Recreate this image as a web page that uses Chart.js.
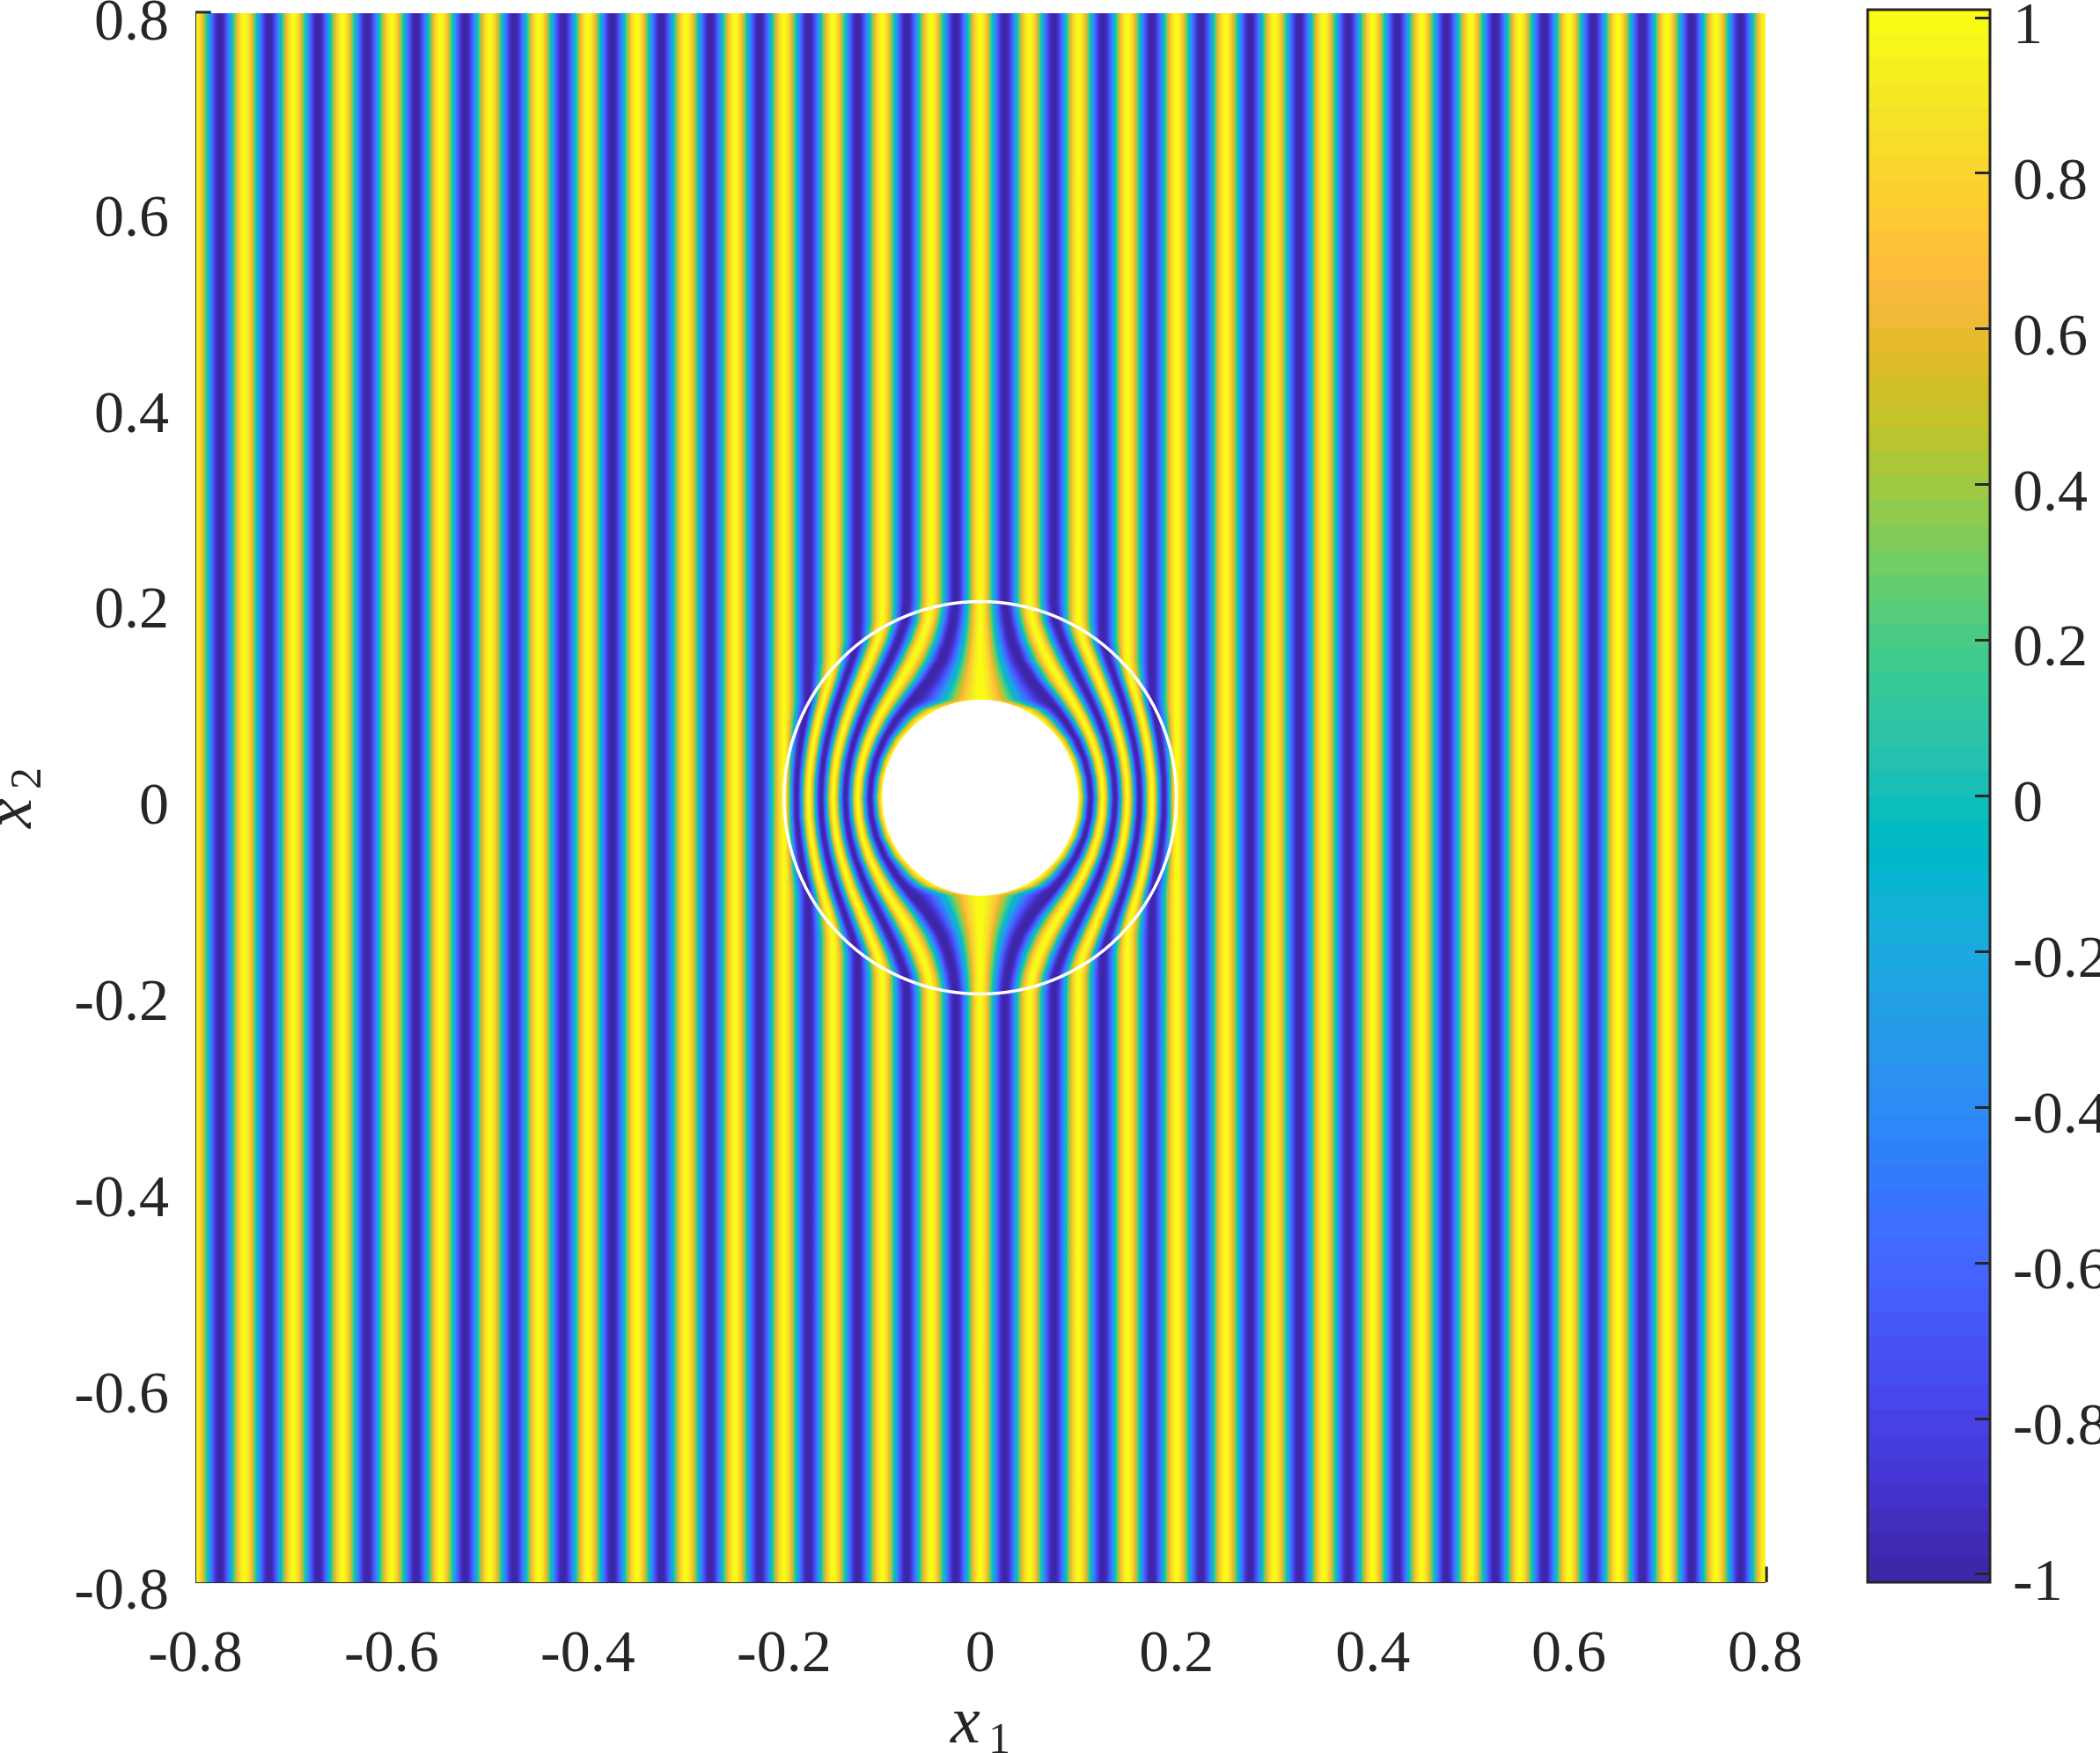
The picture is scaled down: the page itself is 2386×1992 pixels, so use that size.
<!DOCTYPE html>
<html>
<head>
<meta charset="utf-8">
<title>Cloak field</title>
<script src="https://cdn.jsdelivr.net/npm/chart.js@4/dist/chart.umd.js"></script>
<style>
  body { margin: 0; background: #fff; overflow: hidden; }
  canvas { position: absolute; top: 0; }
  #field { left: 0; }
  #bar { left: 2100px; }
</style>
</head>
<body>
<canvas id="field" width="2100" height="1992"></canvas>
<canvas id="bar" width="286" height="1992"></canvas>
<script>
// Tick labels
const xTickLabels = ['-0.8', '-0.6', '-0.4', '-0.2', '0', '0.2', '0.4', '0.6', '0.8'];
const yTickLabels = ['-0.8', '-0.6', '-0.4', '-0.2', '0', '0.2', '0.4', '0.6', '0.8'];
const barTickValues = [-1, -0.8, -0.6, -0.4, -0.2, 0, 0.2, 0.4, 0.6, 0.8, 1];
const barTickLabels = ['-1', '-0.8', '-0.6', '-0.4', '-0.2', '0', '0.2', '0.4', '0.6', '0.8', '1'];

// Heights at which the bent stripes were read, upper half (lower half is the mirror)
const cloakY = [0, 0.02, 0.04, 0.06, 0.08, 0.09, 0.1, 0.12, 0.14, 0.16, 0.18, 0.2];

// x of each crest / trough line at those heights, right half (left half is the mirror)
const curve000 = [0.1, 0.098, 0.0917, 0.08, 0.06, 0.0436, 0, 0, 0, 0, 0, 0];
const curve025 = [0.1125, 0.1109, 0.1061, 0.0977, 0.0855, 0.078, 0.0697, 0.0527, 0.0399, 0.0323, 0.0277, 0.025];
const curve050 = [0.125, 0.1237, 0.1199, 0.1134, 0.1043, 0.099, 0.0933, 0.0809, 0.0695, 0.0602, 0.0535, 0.05];
const curve075 = [0.1375, 0.1364, 0.1333, 0.1281, 0.1209, 0.1167, 0.1122, 0.1024, 0.0928, 0.084, 0.0767, 0.075];
const curve100 = [0.15, 0.1491, 0.1465, 0.1421, 0.1362, 0.1328, 0.129, 0.121, 0.1127, 0.1048, 0.1, 0.1];
const curve125 = [0.1625, 0.1617, 0.1595, 0.1558, 0.1508, 0.1479, 0.1448, 0.138, 0.131, 0.125, 0.125, 0.125];
const curve150 = [0.175, 0.1744, 0.1724, 0.1693, 0.165, 0.1625, 0.1595, 0.1537, 0.15, 0.15, 0.15, 0.15];
const curve175 = [0.1875, 0.1869, 0.1852, 0.1825, 0.1788, 0.1766, 0.175, 0.175, 0.175, 0.175, 0.175, 0.175];
const curve200 = [0.2, 0.2, 0.2, 0.2, 0.2, 0.2, 0.2, 0.2, 0.2, 0.2, 0.2, 0.2];

// Straight lines further out: trough, crest, trough, ...
const outerLines = [0.225, 0.25, 0.275, 0.3, 0.325, 0.35, 0.375, 0.4, 0.425, 0.45, 0.475, 0.5,
  0.525, 0.55, 0.575, 0.6, 0.625, 0.65, 0.675, 0.7, 0.725, 0.75, 0.775, 0.8, 0.825];

const plotEdge = [[-0.8, -0.8], [0.8, -0.8], [0.8, 0.8], [-0.8, 0.8]];
const cloakCentre = [{x: 0, y: 0}];
const innerRadius = 0.1;
const outerRadius = 0.2;

// parula, 64 colours
const parula = ['#3e26a8', '#402aB4', '#422ebf', '#4333cb', '#4537d5', '#463cde', '#4741e5', '#4747eb',
  '#484df0', '#4752f4', '#4758f8', '#465efb', '#4563fd', '#4269fe', '#3e6fff', '#3875fe',
  '#327cfc', '#2f81fa', '#2e87f7', '#2d8cf3', '#2b91ef', '#2796eb', '#259be7', '#23a0e5',
  '#20a5e3', '#1ca9df', '#18addb', '#12b1d6', '#08b5d0', '#01b8ca', '#02bac3', '#0bbdbc',
  '#19bfb5', '#24c1ae', '#2cc3a7', '#31c69f', '#37c897', '#3fca8e', '#4acb84', '#57cc7a',
  '#64cd6f', '#72cd64', '#81cc59', '#8fcb4e', '#9dc943', '#abc739', '#b9c431', '#c5c22a',
  '#d1bf27', '#dcbd29', '#e6bb2d', '#f0ba36', '#f8ba3d', '#febe3c', '#fec338', '#fec934',
  '#fccf30', '#f9d52d', '#f7dc2a', '#f5e227', '#f5e924', '#f6ef20', '#f7f51b', '#f9fb14'];

const ink = '#262626';
const serif = '"Liberation Serif", serif';

// all lines of the right half, from the cloak hole outwards; even index = crest
const rightLines = [curve000, curve025, curve050, curve075, curve100, curve125, curve150, curve175, curve200]
  .concat(outerLines.map(function (x) { return cloakY.map(function () { return x; }); }));

var lastRow = cloakY.length - 1;
var bentRows = [];
for (var r = lastRow; r >= 0; r--) bentRows.push(r);
for (var r = 1; r <= lastRow; r++) bentRows.push(r);

function rowHeight(pos, rows) {
  // first and last entries of a stripe reach the plot edge
  var y = cloakY[rows[pos]];
  if (pos === 0) return -0.8;
  if (pos === rows.length - 1) return 0.8;
  return pos < rows.length / 2 && rows[pos] !== 0 ? -y : y;
}

function stripeShape(leftCrest, leftTrough, rightCrest, rightTrough, share, straight) {
  var rows = straight ? [lastRow, lastRow] : [lastRow].concat(bentRows, [lastRow]);
  var pts = [];
  rows.forEach(function (row, i) {
    pts.push({x: rightCrest[row] + share * (rightTrough[row] - rightCrest[row]), y: rowHeight(i, rows)});
  });
  for (var i = rows.length - 1; i >= 0; i--) {
    var row = rows[i];
    pts.push({x: leftCrest[row] + share * (leftTrough[row] - leftCrest[row]), y: rowHeight(i, rows)});
  }
  return pts;
}

function negate(line) {
  return line.map(function (x) { return -x; });
}

function shapeDataset(points, colour) {
  return {
    data: points,
    showLine: true,
    fill: 'shape',
    backgroundColor: colour,
    borderWidth: 0,
    pointRadius: 0,
    tension: 0
  };
}

// nested colour bands, lowest value first in the list because Chart.js paints the list backwards
var bands = [];
for (var c = 1; c < parula.length; c += 2) {
  var share = Math.acos(-1 + 2 * c / 64) / Math.PI;
  bands.unshift.apply(bands, (function () {
    var list = [shapeDataset(stripeShape(negate(rightLines[0]), negate(rightLines[1]), rightLines[0], rightLines[1], share, false), parula[c])];
    for (var k = 2; k + 1 < rightLines.length; k += 2) {
      var straight = k > 8;
      list.push(shapeDataset(stripeShape(rightLines[k], rightLines[k - 1], rightLines[k], rightLines[k + 1], share, straight), parula[c]));
      list.push(shapeDataset(stripeShape(negate(rightLines[k]), negate(rightLines[k + 1]), negate(rightLines[k]), negate(rightLines[k - 1]), share, straight), parula[c]));
    }
    return list;
  })());
}

function radiusPixels(value) {
  return function (ctx) {
    var sx = ctx.chart.scales.x;
    return sx.getPixelForValue(value) - sx.getPixelForValue(0);
  };
}

const tickStubTop = [{x: -0.8, y: 0.801}, {x: -0.784, y: 0.801}];
const tickStubRight = [{x: 0.8015, y: -0.8}, {x: 0.8015, y: -0.784}];

var fieldDatasets = [
  {data: cloakCentre, pointRadius: radiusPixels(innerRadius), pointBackgroundColor: '#fff', pointBorderWidth: 0},
  {data: cloakCentre, pointRadius: radiusPixels(outerRadius), pointBackgroundColor: 'rgba(0,0,0,0)', pointBorderColor: '#fff', pointBorderWidth: 3.5},
  {data: tickStubTop, showLine: true, borderColor: ink, borderWidth: 3, pointRadius: 0, clip: false},
  {data: tickStubRight, showLine: true, borderColor: ink, borderWidth: 3, pointRadius: 0, clip: false}
].concat(bands, [shapeDataset(plotEdge.map(function (p) { return {x: p[0], y: p[1]}; }), parula[0])]);

// x1 and x2 with a real subscript
var axisNames = {
  id: 'axisNames',
  afterDraw: function (chart) {
    var g = chart.ctx;
    g.save();
    g.fillStyle = ink;
    g.textBaseline = 'alphabetic';
    g.textAlign = 'left';
    g.font = 'italic 76px ' + serif;
    g.fillText('x', 1080, 1980);
    g.font = '50px ' + serif;
    g.fillText('1', 1123, 1992);
    g.translate(35, 941);
    g.rotate(-Math.PI / 2);
    g.font = 'italic 76px ' + serif;
    g.fillText('x', 0, 0);
    g.font = '50px ' + serif;
    g.fillText('2', 44, 11);
    g.restore();
  }
};

new Chart(document.getElementById('field'), {
  type: 'scatter',
  data: {datasets: fieldDatasets},
  plugins: [axisNames],
  options: {
    responsive: false,
    animation: false,
    events: [],
    parsing: false,
    normalized: true,
    layout: {padding: {top: 15, right: 94.5, left: 0, bottom: 0}},
    plugins: {legend: {display: false}, tooltip: {enabled: false}},
    scales: {
      x: {
        type: 'linear', min: -0.8, max: 0.8,
        grid: {display: false},
        border: {display: true, color: ink, width: 1, z: 1},
        ticks: {
          stepSize: 0.2, autoSkip: false, maxRotation: 0, padding: 34, color: ink,
          font: {family: serif, size: 68},
          callback: function (v, i) { return xTickLabels[i]; }
        },
        afterFit: function (s) { s.height = 194; s.paddingLeft = 0; s.paddingRight = 0; }
      },
      y: {
        type: 'linear', min: -0.8, max: 0.8,
        grid: {display: false},
        border: {display: true, color: ink, width: 1, z: 1},
        ticks: {
          stepSize: 0.2, autoSkip: false, padding: 22, labelOffset: 12, color: ink,
          font: {family: serif, size: 68},
          callback: function (v, i) { return yTickLabels[i]; }
        },
        afterFit: function (s) { s.width = 222; s.paddingTop = 0; s.paddingBottom = 0; }
      }
    }
  }
});

// colour bar: one bar per colour, each starting at the bottom so no seams show
const barLow = -1.0102;
const barHigh = 1.0102;
var barDatasets = parula.map(function (colour, i) {
  return {
    data: [[barLow, barLow + (barHigh - barLow) * (i + 1) / parula.length]],
    backgroundColor: colour,
    borderWidth: 0,
    grouped: false,
    barPercentage: 1,
    categoryPercentage: 1
  };
});

var barFrame = {
  id: 'barFrame',
  afterDraw: function (chart) {
    var a = chart.chartArea, g = chart.ctx;
    g.save();
    g.strokeStyle = ink;
    g.lineWidth = 3;
    g.strokeRect(a.left, a.top, a.right - a.left, a.bottom - a.top);
    g.restore();
  }
};

new Chart(document.getElementById('bar'), {
  type: 'bar',
  data: {labels: ['c'], datasets: barDatasets},
  plugins: [barFrame],
  options: {
    responsive: false,
    animation: false,
    events: [],
    layout: {padding: {top: 11, left: 22, right: 0, bottom: 194}},
    plugins: {legend: {display: false}, tooltip: {enabled: false}},
    scales: {
      x: {display: false},
      y: {
        type: 'linear', position: 'right', min: barLow, max: barHigh,
        grid: {drawOnChartArea: false, drawTicks: true, tickLength: -17, tickWidth: 3, tickColor: ink, z: 1},
        border: {display: false},
        afterBuildTicks: function (s) {
          s.ticks = barTickValues.map(function (v) { return {value: v}; });
        },
        ticks: {
          autoSkip: false, padding: 43, labelOffset: 11, color: ink,
          font: {family: serif, size: 68},
          callback: function (v, i) { return barTickLabels[i]; }
        },
        afterFit: function (s) { s.width = 125; s.paddingTop = 0; s.paddingBottom = 0; }
      }
    }
  }
});
</script>
</body>
</html>
